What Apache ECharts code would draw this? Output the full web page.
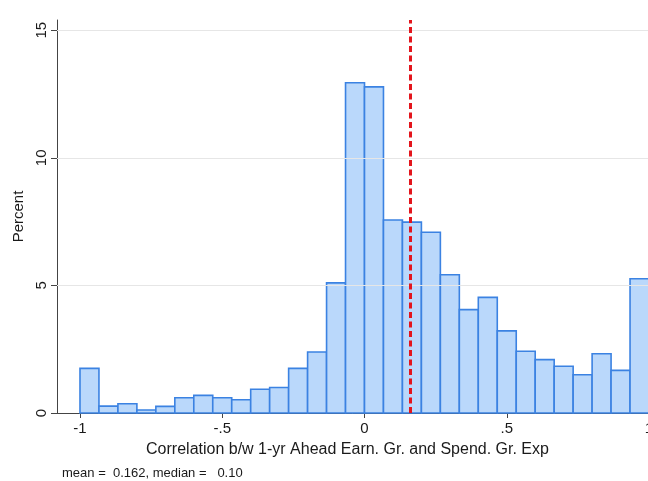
<!DOCTYPE html>
<html>
<head>
<meta charset="utf-8">
<script src="https://cdn.jsdelivr.net/npm/echarts@6/dist/echarts.min.js"></script>
<style>
  html, body { margin: 0; padding: 0; background: #fff; overflow: hidden; }
  #chart { width: 648px; height: 481px; }
</style>
</head>
<body>
<div id="chart"></div>
<script>
// ---- data ----
const binStart = -1;
const binWidth = 1 / 15;
const percents = [1.75, 0.27, 0.36, 0.12, 0.26, 0.60, 0.69, 0.60, 0.52, 0.93,
                  1.00, 1.75, 2.39, 5.10, 12.94, 12.78, 7.56, 7.48, 7.08, 5.42,
                  4.05, 4.53, 3.22, 2.42, 2.09, 1.83, 1.50, 2.32, 1.67, 5.26];
const meanValue = 0.162;
const xTicks = [-1, -0.5, 0, 0.5, 1];
const xTickLabels = ['-1', '-.5', '0', '.5', '1'];
const yTicks = [0, 5, 10, 15];
const yGridLines = [5, 10, 15];
const xTitle = 'Correlation b/w 1-yr Ahead Earn. Gr. and Spend. Gr. Exp';
const yTitle = 'Percent';
const noteText = 'mean =  0.162, median =   0.10';

const histData = percents.map((p, i) => [binStart + i * binWidth, binStart + (i + 1) * binWidth, p]);

const FONT = '"Liberation Sans", Arial, Helvetica, sans-serif';
const chart = echarts.init(document.getElementById('chart'), null, { renderer: 'canvas' });

chart.setOption({
  animation: false,
  backgroundColor: '#ffffff',
  textStyle: { fontFamily: FONT },
  grid: { left: 57, right: -24, top: 20, bottom: 68, containLabel: false, outerBoundsMode: 'none' },
  xAxis: {
    type: 'value',
    min: -1.0808,
    max: 1.0808,
    name: xTitle,
    nameLocation: 'middle',
    nameGap: 29,
    nameTextStyle: { fontSize: 16, color: '#1a1a1a', fontFamily: FONT, padding: [0, 34, 0, 0] },
    axisLine: { show: true, onZero: false, lineStyle: { color: '#444', width: 1 } },
    axisTick: { show: true, customValues: xTicks, length: 5, lineStyle: { color: '#444' } },
    axisLabel: {
      customValues: xTicks,
      formatter: v => xTickLabels[xTicks.indexOf(v)],
      fontSize: 15, color: '#1a1a1a', margin: 8, fontFamily: FONT
    },
    splitLine: { show: false }
  },
  yAxis: {
    type: 'value',
    min: 0,
    max: 15.4,
    name: yTitle,
    nameLocation: 'middle',
    nameRotate: 90,
    nameGap: 31,
    nameTextStyle: { fontSize: 15, color: '#1a1a1a', fontFamily: FONT },
    axisLine: { show: true, onZero: false, lineStyle: { color: '#444', width: 1 } },
    axisTick: { show: true, customValues: yTicks, length: 6, lineStyle: { color: '#444' } },
    axisLabel: {
      customValues: yTicks,
      rotate: 90,
      fontSize: 15, color: '#1a1a1a', margin: 8, fontFamily: FONT
    },
    splitLine: { show: false }
  },
  series: [
    {
      name: 'grid',
      type: 'line',
      data: [],
      z: 1,
      silent: true,
      markLine: {
        silent: true,
        symbol: ['none', 'none'],
        label: { show: false },
        lineStyle: { color: '#e6e6e6', width: 1, type: 'solid' },
        data: yGridLines.map(v => ({ yAxis: v }))
      }
    },
    {
      name: 'hist',
      type: 'custom',
      z: 2,
      data: histData,
      encode: { x: [0, 1], y: 2 },
      renderItem: function (params, api) {
        const x0 = api.value(0), x1 = api.value(1), y = api.value(2);
        const pTop = api.coord([x0, y]);
        const pBot = api.coord([x1, 0]);
        return {
          type: 'rect',
          shape: { x: pTop[0], y: pTop[1], width: pBot[0] - pTop[0], height: pBot[1] - pTop[1] },
          style: { fill: '#bad8fb', stroke: '#3b82e2', lineWidth: 1.6 }
        };
      }
    },
    {
      name: 'mean',
      type: 'line',
      data: [],
      z: 3,
      silent: true,
      markLine: {
        silent: true,
        symbol: ['none', 'none'],
        label: { show: false },
        lineStyle: { color: '#e3151c', width: 3, type: [6, 3.5] },
        data: [{ xAxis: meanValue }]
      }
    }
  ],
  graphic: [
    {
      type: 'text',
      left: 62,
      top: 467,
      style: { text: noteText, fontSize: 13, fill: '#1a1a1a', fontFamily: FONT }
    }
  ]
});
</script>
</body>
</html>
